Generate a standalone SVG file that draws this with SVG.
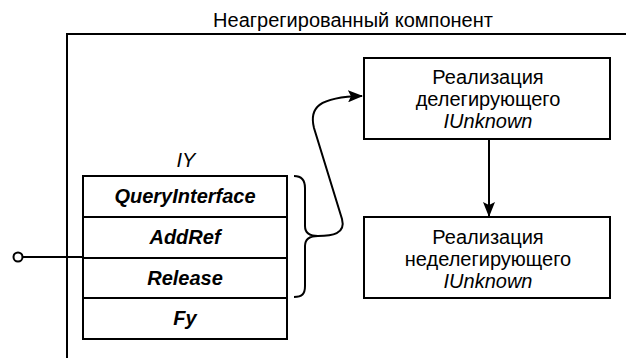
<svg xmlns="http://www.w3.org/2000/svg" width="626" height="358" viewBox="0 0 626 358">
<defs>
<style>
text{font-family:"Liberation Sans",Arial,sans-serif;font-size:20px;fill:#000;text-anchor:middle;dominant-baseline:central}
.it{font-style:italic}
.bi{font-style:italic;font-weight:bold}
.box{fill:#fff;stroke:#000;stroke-width:2}
.ln{fill:none;stroke:#000;stroke-width:2}
</style>
<marker id="ah" markerWidth="15" markerHeight="12" refX="14" refY="6" orient="auto" markerUnits="userSpaceOnUse" viewBox="0 0 15 12">
<path d="M0,0 L15,6 L0,12 L3,6 Z" fill="#000"/>
</marker>
</defs>
<g id="frame">
<path class="ln" d="M67,358 L67,34 L626,34"/>
<text x="353" y="20">Неагрегированный компонент</text>
</g>
<g id="delegating">
<rect class="box" x="364" y="58" width="246" height="81"/>
<text x="488" y="76.5">Реализация</text>
<text x="488" y="98.5">делегирующего</text>
<text x="488" y="120.5" class="it">IUnknown</text>
</g>
<g id="nondelegating">
<rect class="box" x="364" y="217" width="246" height="81"/>
<text x="488" y="236.5">Реализация</text>
<text x="488" y="258.5">неделегирующего</text>
<text x="488" y="281" class="it">IUnknown</text>
</g>
<g id="iy">
<text x="186" y="160" class="it">IY</text>
<rect class="box" x="83" y="176" width="204" height="41"/>
<text x="185" y="196" class="bi">QueryInterface</text>
<rect class="box" x="83" y="217" width="204" height="41"/>
<text x="185" y="237" class="bi">AddRef</text>
<rect class="box" x="83" y="258" width="204" height="40"/>
<text x="185" y="278" class="bi">Release</text>
<rect class="box" x="83" y="298" width="204" height="41"/>
<text x="185" y="318" class="bi">Fy</text>
</g>
<g id="connectors">
<circle cx="18" cy="257" r="4.5" fill="#fff" stroke="#000" stroke-width="2"/>
<line class="ln" x1="22.5" y1="257" x2="83" y2="257"/>
<path class="ln" d="M294,176 C302,176 305,180 305,188 L305,226 C305,233 309,236 318,236 C309,236 305,239 305,246 L305,286 C305,294 302,297 294,297"/>
<path class="ln" marker-end="url(#ah)" d="M318,236 C332,236 346,234 342,219 L314,128 C309,108 318,97 362,96"/>
<line class="ln" x1="489" y1="139" x2="489" y2="216" marker-end="url(#ah)"/>
</g>
</svg>
